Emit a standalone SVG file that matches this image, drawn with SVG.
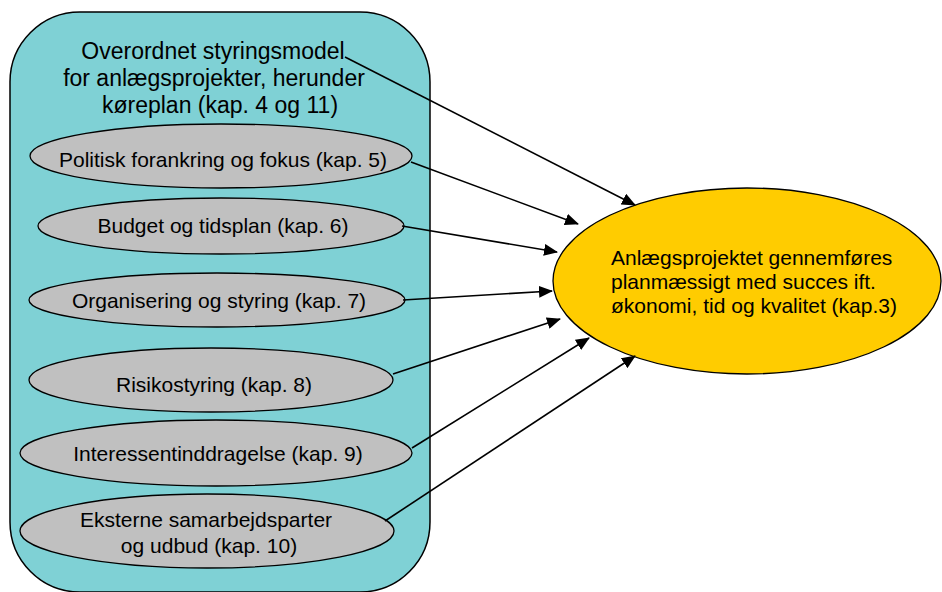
<svg xmlns="http://www.w3.org/2000/svg" width="942" height="592" viewBox="0 0 942 592">
  <style>
    .frame { fill: #7FD1D5; stroke: #000; stroke-width: 1.5; }
    .topic { fill: #C0C0C0; stroke: #000; stroke-width: 1.3; }
    .goal { fill: #FFCC00; stroke: #000; stroke-width: 1.3; }
    text { font-family: "Liberation Sans", Arial, sans-serif; fill: #000; }
    .head { font-size: 23px; text-anchor: middle; }
    .lbl { font-size: 21px; text-anchor: middle; }
    .goaltxt { font-size: 21px; }
    .conn { stroke: #000; stroke-width: 1.6; fill: none; marker-end: url(#arrow); }
  </style>
  <defs>
    <marker id="arrow" markerUnits="userSpaceOnUse" markerWidth="14" markerHeight="12" viewBox="0 0 14 12" refX="13" refY="6" orient="auto">
      <path d="M0,0 L14,6 L0,12 Z" fill="#000"/>
    </marker>
  </defs>
  <rect width="942" height="592" fill="#fff"/>

  <g id="model">
    <rect class="frame" x="10" y="12" width="420" height="580" rx="70" ry="70"/>
    <text class="head" x="213" y="59">Overordnet styringsmodel</text>
    <text class="head" x="214" y="86">for anlægsprojekter, herunder</text>
    <text class="head" x="220" y="113">køreplan (kap. 4 og 11)</text>
  </g>

  <g id="politisk">
    <ellipse class="topic" cx="221" cy="156" rx="191" ry="32"/>
    <text class="lbl" x="223" y="167">Politisk forankring og fokus (kap. 5)</text>
  </g>
  <g id="budget">
    <ellipse class="topic" cx="221" cy="226" rx="183" ry="28"/>
    <text class="lbl" x="223" y="233">Budget og tidsplan (kap. 6)</text>
  </g>
  <g id="organisering">
    <ellipse class="topic" cx="217" cy="300" rx="188" ry="27"/>
    <text class="lbl" x="219" y="308">Organisering og styring (kap. 7)</text>
  </g>
  <g id="risiko">
    <ellipse class="topic" cx="211" cy="380" rx="182" ry="32"/>
    <text class="lbl" x="214" y="392">Risikostyring (kap. 8)</text>
  </g>
  <g id="interessent">
    <ellipse class="topic" cx="216" cy="453" rx="196" ry="33"/>
    <text class="lbl" x="218" y="461">Interessentinddragelse (kap. 9)</text>
  </g>
  <g id="eksterne">
    <ellipse class="topic" cx="207" cy="531" rx="187" ry="37"/>
    <text class="lbl" x="206" y="527">Eksterne samarbejdsparter</text>
    <text class="lbl" x="209" y="553">og udbud (kap. 10)</text>
  </g>

  <g id="goal">
    <ellipse class="goal" cx="747" cy="281" rx="194" ry="93"/>
    <text class="goaltxt" x="611" y="265">Anlægsprojektet gennemføres</text>
    <text class="goaltxt" x="611" y="289">planmæssigt med succes ift.</text>
    <text class="goaltxt" x="611" y="313">økonomi, tid og kvalitet (kap.3)</text>
  </g>

  <g id="connectors">
    <line class="conn" x1="345" y1="57" x2="635" y2="205"/>
    <line class="conn" x1="411" y1="162" x2="578" y2="224"/>
    <line class="conn" x1="402" y1="226" x2="557" y2="252"/>
    <line class="conn" x1="403" y1="300" x2="552" y2="291"/>
    <line class="conn" x1="393" y1="374" x2="560" y2="319"/>
    <line class="conn" x1="412" y1="448" x2="589" y2="338"/>
    <line class="conn" x1="385" y1="521" x2="635" y2="356"/>
  </g>
</svg>
